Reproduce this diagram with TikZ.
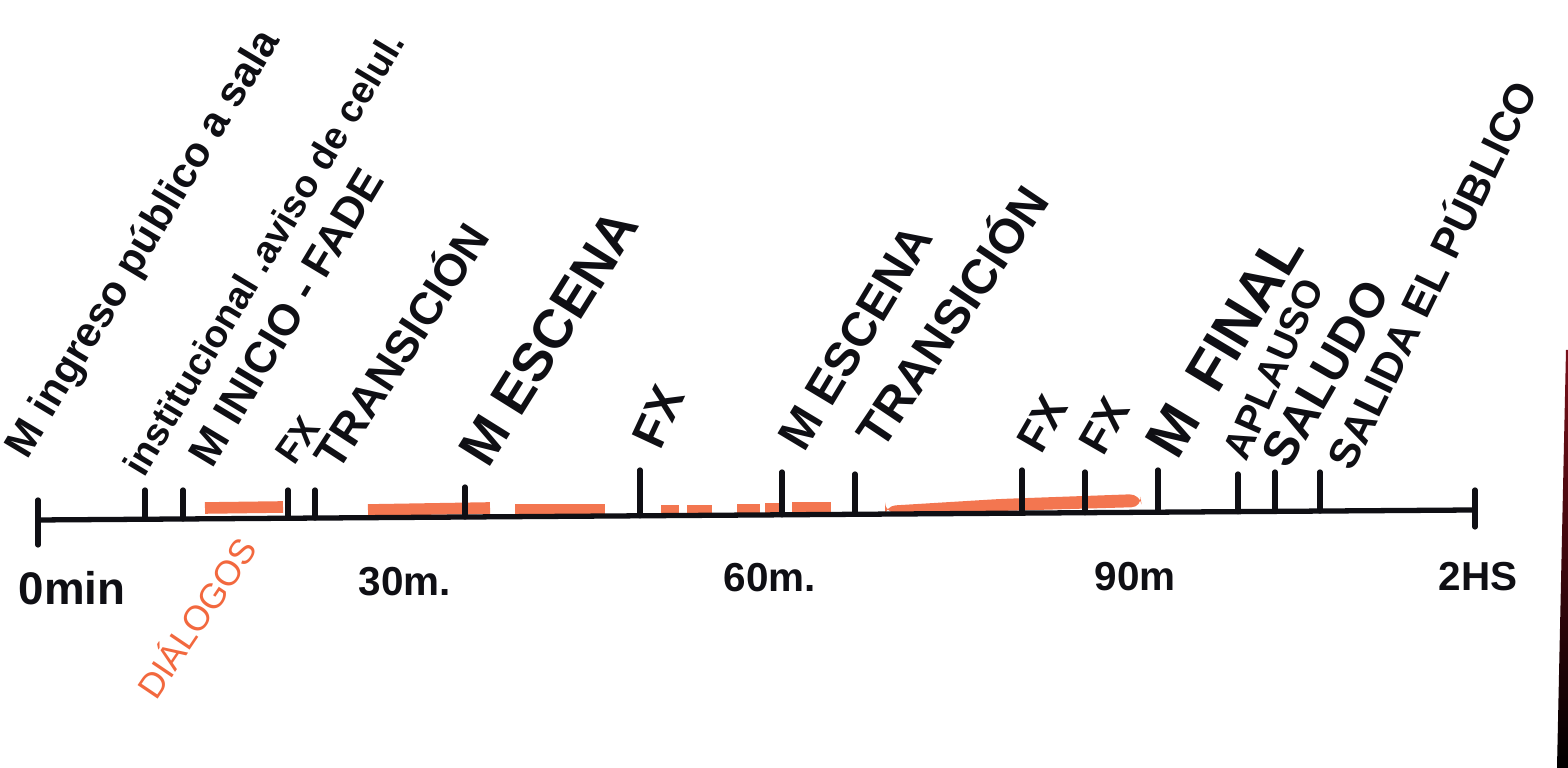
\documentclass[tikz,border=0pt]{standalone}
\usepackage{fontspec}
\setmainfont{Liberation Sans}
\definecolor{hl}{RGB}{242,104,62}
\definecolor{ink}{RGB}{15,15,20}
\definecolor{edgetop}{RGB}{120,15,25}
\newcommand{\fsz}[1]{\fontsize{#1}{#1}\selectfont}
\begin{document}
\begin{tikzpicture}[x=0.01cm,y=-0.01cm,
  lbl/.style={anchor=west,inner sep=0pt,text=ink},
  axisline/.style={draw=ink,line width=1.5pt,line cap=round},
  hlstroke/.style={draw=hl,line width=3.3pt,opacity=0.9},
  minute/.style={inner sep=0pt,text=ink}]
\fill[white] (0,0) rectangle (1568,768);
\useasboundingbox (0,0) rectangle (1568,768);
% paper edge
\shade[top color=edgetop,bottom color=black] (1566,350) -- (1568,350) -- (1568,768) -- (1557,768) -- cycle;
% highlighter strokes
\draw[hlstroke] (205,508) -- (283,507);
\draw[hlstroke] (368,510) -- (490,508);
\draw[hlstroke] (515,510) -- (605,510);
\draw[hlstroke] (661,511) -- (679,511);
\draw[hlstroke] (687,511) -- (712,511);
\draw[hlstroke] (737,510) -- (760,510);
\draw[hlstroke] (765,509) -- (780,509);
\draw[hlstroke] (792,508) -- (831,508);
\fill[hl,opacity=0.9,rounded corners=3pt] (885,506) -- (1000,499) -- (1140,494) -- (1142,507) -- (1000,511) -- (885,513) -- cycle;
% axis
\coordinate (a0) at (38,520);
\coordinate (a1) at (1475,510);
\draw[axisline] (a0) -- (a1);
\draw[axisline] (38,500) -- (38,545);
\draw[axisline] (1475,490) -- (1475,527);
\foreach \x/\t in {145/490,183/490,288/490,315/490,465/487,640/470,782/472,855/474,1022/470,1085/472,1158/470,1238/474,1275/472,1320/472}
  \draw[axisline] (\x,\t) -- (\x,{520-10*(\x-38)/1437});
% labels above
\node[lbl,rotate=59,font=\bfseries\fsz{12}] (l1) at (18,455) {M ingreso público a sala};
\node[lbl,rotate=59,font=\bfseries\fsz{10.9}] (l2) at (132,472) {institucional .aviso de celul.};
\node[lbl,rotate=59,font=\bfseries\fsz{12.4}] (l3) at (199,462) {M INICIO - FADE};
\node[lbl,rotate=55,font=\bfseries\fsz{10.5}] (l4) at (284,460) {FX};
\node[lbl,rotate=57,font=\bfseries\fsz{12.8}] (l5) at (322,462) {TRANSICIÓN};
\node[lbl,rotate=58,font=\bfseries\fsz{15.5}] (l6) at (472,460) {M ESCENA};
\node[lbl,rotate=65,font=\bfseries\fsz{13.5}] (l7) at (645,445) {FX};
\node[lbl,rotate=59,font=\bfseries\fsz{13.6}] (l8) at (790,446) {M ESCENA};
\node[lbl,rotate=56,font=\bfseries\fsz{13.8}] (l9) at (864,440) {TRANSICIÓN};
\node[lbl,rotate=60,font=\bfseries\fsz{12.5}] (l10) at (1028,449) {FX};
\node[lbl,rotate=60,font=\bfseries\fsz{12.5}] (l11) at (1090,451) {FX};
\node[lbl,rotate=59,font=\bfseries\fsz{16.5}] (l12) at (1160,452) {M\,\,\,FINAL};
\node[lbl,rotate=66,font=\bfseries\fsz{11.2}] (l13) at (1234,458) {APLAUSO};
\node[lbl,rotate=60,font=\bfseries\fsz{13.8}] (l14) at (1274,463) {SALUDO};
\node[lbl,rotate=64,font=\bfseries\fsz{12}] (l15) at (1336,465) {SALIDA EL PÚBLICO};
% time labels
\node[minute,font=\bfseries\fsz{13}] (t0) at (72,588) {0min};
\node[minute,font=\bfseries\fsz{11.5}] (t30) at (405,582) {30m.};
\node[minute,font=\bfseries\fsz{11.5}] (t60) at (770,578) {60m.};
\node[minute,font=\bfseries\fsz{11.5}] (t90) at (1135,577) {90m};
\node[minute,font=\bfseries\fsz{11.5}] (t120) at (1478,577) {2HS};
\node[inner sep=0pt,rotate=56,text=hl,font=\fsz{10}] (dlg) at (195,617) {DIÁLOGOS};
\end{tikzpicture}
\end{document}
